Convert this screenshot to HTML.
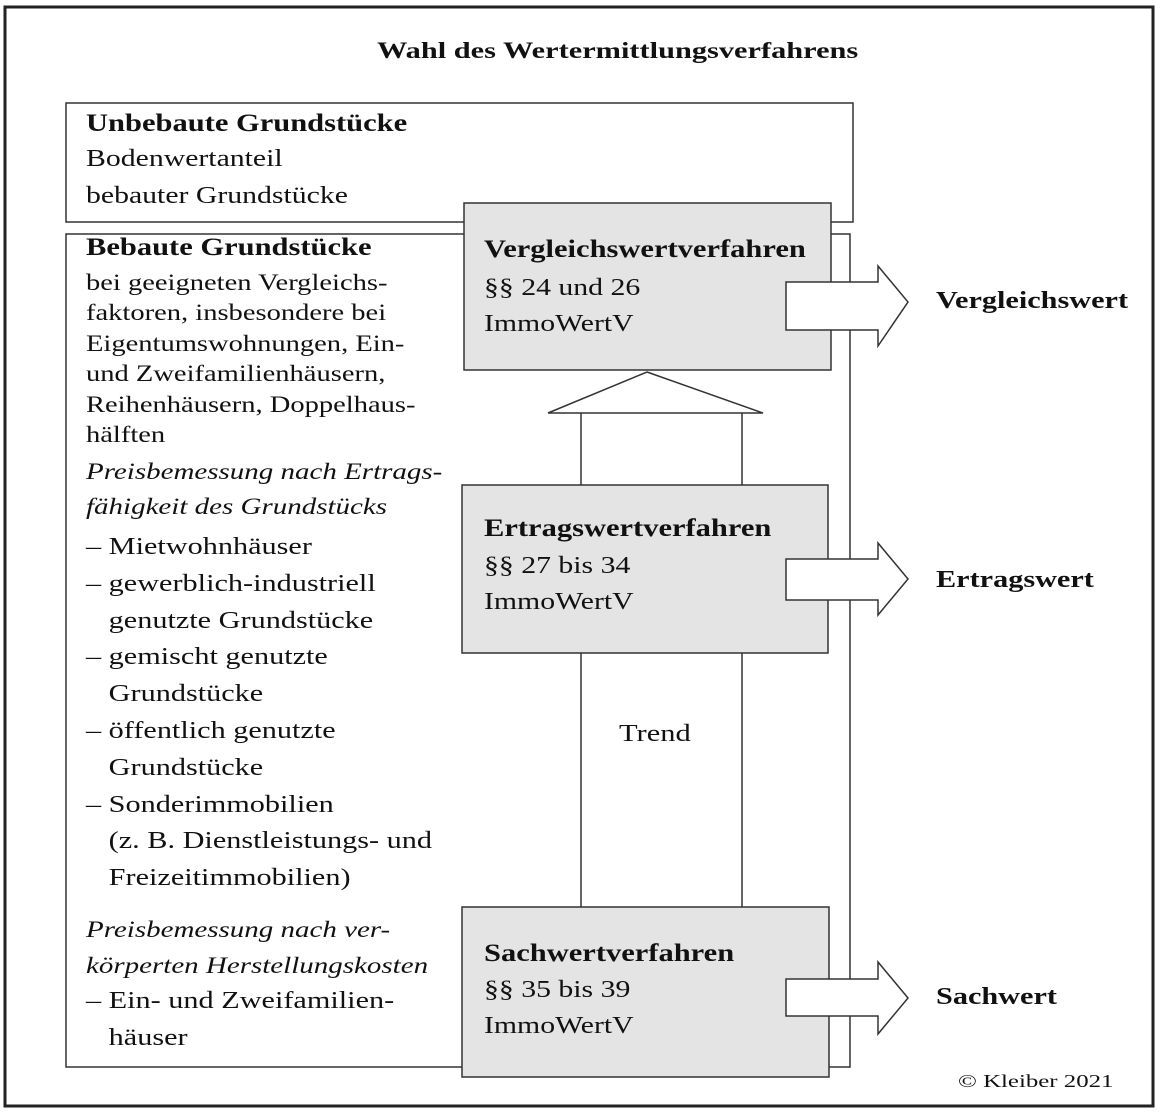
<!DOCTYPE html>
<html><head><meta charset="utf-8"><style>
html,body{margin:0;padding:0;background:#fff}
body{width:1160px;height:1116px;position:relative;overflow:hidden;font-family:"Liberation Serif",serif;color:#111}
.a{position:absolute;white-space:nowrap;transform-origin:0 0}
.h{font-size:25px;font-weight:bold}
</style></head><body>
<svg width="1160" height="1116" style="position:absolute;left:0;top:0">
<rect x="5" y="7" width="1148" height="1099" fill="none" stroke="#222" stroke-width="3"/>
<rect x="66" y="103" width="787" height="119" fill="none" stroke="#333" stroke-width="1.5"/>
<rect x="66" y="234" width="784" height="833" fill="none" stroke="#333" stroke-width="1.5"/>
<line x1="581" y1="413" x2="581" y2="485" stroke="#333" stroke-width="1.5"/>
<line x1="742" y1="413" x2="742" y2="485" stroke="#333" stroke-width="1.5"/>
<line x1="581" y1="653" x2="581" y2="907" stroke="#333" stroke-width="1.5"/>
<line x1="742" y1="653" x2="742" y2="907" stroke="#333" stroke-width="1.5"/>
<polygon points="647,372 763,413 548,413" fill="#fff" stroke="#333" stroke-width="1.5"/>
<rect x="464" y="203" width="367" height="167" fill="#e4e4e4" stroke="#333" stroke-width="1.5"/>
<rect x="462" y="485" width="366" height="168" fill="#e4e4e4" stroke="#333" stroke-width="1.5"/>
<rect x="462" y="907" width="367" height="170" fill="#e4e4e4" stroke="#333" stroke-width="1.5"/>
<polygon points="786,282 878,282 878,266 908,302 878,346 878,330 786,330" fill="#fff" stroke="#333" stroke-width="1.5"/>
<polygon points="786,559 878,559 878,543 908,579 878,615 878,600 786,600" fill="#fff" stroke="#333" stroke-width="1.5"/>
<polygon points="786,979 878,979 878,962 908,998 878,1034 878,1016 786,1016" fill="#fff" stroke="#333" stroke-width="1.5"/>
</svg>
<div class="a" style="left:377px;top:38px;font-size:23px;font-weight:bold;transform:scaleX(1.32)">Wahl des Wertermittlungsverfahrens</div>

<div class="a h" style="left:86px;top:110px;transform:scaleX(1.22)">Unbebaute Grundstücke</div>
<div class="a" style="left:86px;top:141px;font-size:24px;line-height:37px;transform:scaleX(1.24)">Bodenwertanteil<br>bebauter Grundstücke</div>

<div class="a h" style="left:86px;top:234px;transform:scaleX(1.22)">Bebaute Grundstücke</div>
<div class="a" style="left:86px;top:268px;font-size:23px;line-height:30.4px;transform:scaleX(1.24)">bei geeigneten Vergleichs-<br>faktoren, insbesondere bei<br>Eigentumswohnungen, Ein-<br>und Zweifamilienhäusern,<br>Reihenhäusern, Doppelhaus-<br>hälften</div>
<div class="a" style="left:86px;top:454px;font-size:23px;line-height:35px;font-style:italic;transform:scaleX(1.26)">Preisbemessung nach Ertrags-<br>fähigkeit des Grundstücks</div>
<div class="a" style="left:86px;top:529px;font-size:24px;line-height:36.8px;transform:scaleX(1.26)">– Mietwohnhäuser<br>– gewerblich-industriell<br>&nbsp;&nbsp;&nbsp;genutzte Grundstücke<br>– gemischt genutzte<br>&nbsp;&nbsp;&nbsp;Grundstücke<br>– öffentlich genutzte<br>&nbsp;&nbsp;&nbsp;Grundstücke<br>– Sonderimmobilien<br>&nbsp;&nbsp;&nbsp;(z. B. Dienstleistungs- und<br>&nbsp;&nbsp;&nbsp;Freizeitimmobilien)</div>
<div class="a" style="left:86px;top:912px;font-size:23px;line-height:36px;font-style:italic;transform:scaleX(1.26)">Preisbemessung nach ver-<br>körperten Herstellungskosten</div>
<div class="a" style="left:86px;top:983px;font-size:24px;line-height:37px;transform:scaleX(1.26)">– Ein- und Zweifamilien-<br>&nbsp;&nbsp;&nbsp;häuser</div>

<div class="a h" style="left:484px;top:236px;transform:scaleX(1.22)">Vergleichswertverfahren</div>
<div class="a" style="left:484px;top:270px;font-size:24px;line-height:36px;transform:scaleX(1.24)">§§ 24 und 26<br>ImmoWertV</div>
<div class="a h" style="left:484px;top:515px;transform:scaleX(1.22)">Ertragswertverfahren</div>
<div class="a" style="left:484px;top:548px;font-size:24px;line-height:36px;transform:scaleX(1.24)">§§ 27 bis 34<br>ImmoWertV</div>
<div class="a h" style="left:484px;top:940px;transform:scaleX(1.22)">Sachwertverfahren</div>
<div class="a" style="left:484px;top:972px;font-size:24px;line-height:36px;transform:scaleX(1.24)">§§ 35 bis 39<br>ImmoWertV</div>

<div class="a" style="left:619px;top:721px;font-size:24px;transform:scaleX(1.27)">Trend</div>
<div class="a h" style="left:936px;top:288px;font-size:24px;transform:scaleX(1.26)">Vergleichswert</div>
<div class="a h" style="left:936px;top:567px;font-size:24px;transform:scaleX(1.26)">Ertragswert</div>
<div class="a h" style="left:936px;top:984px;font-size:24px;transform:scaleX(1.26)">Sachwert</div>
<div class="a" style="left:958px;top:1071px;font-size:18px;transform:scaleX(1.38)">© Kleiber 2021</div>
</body></html>
